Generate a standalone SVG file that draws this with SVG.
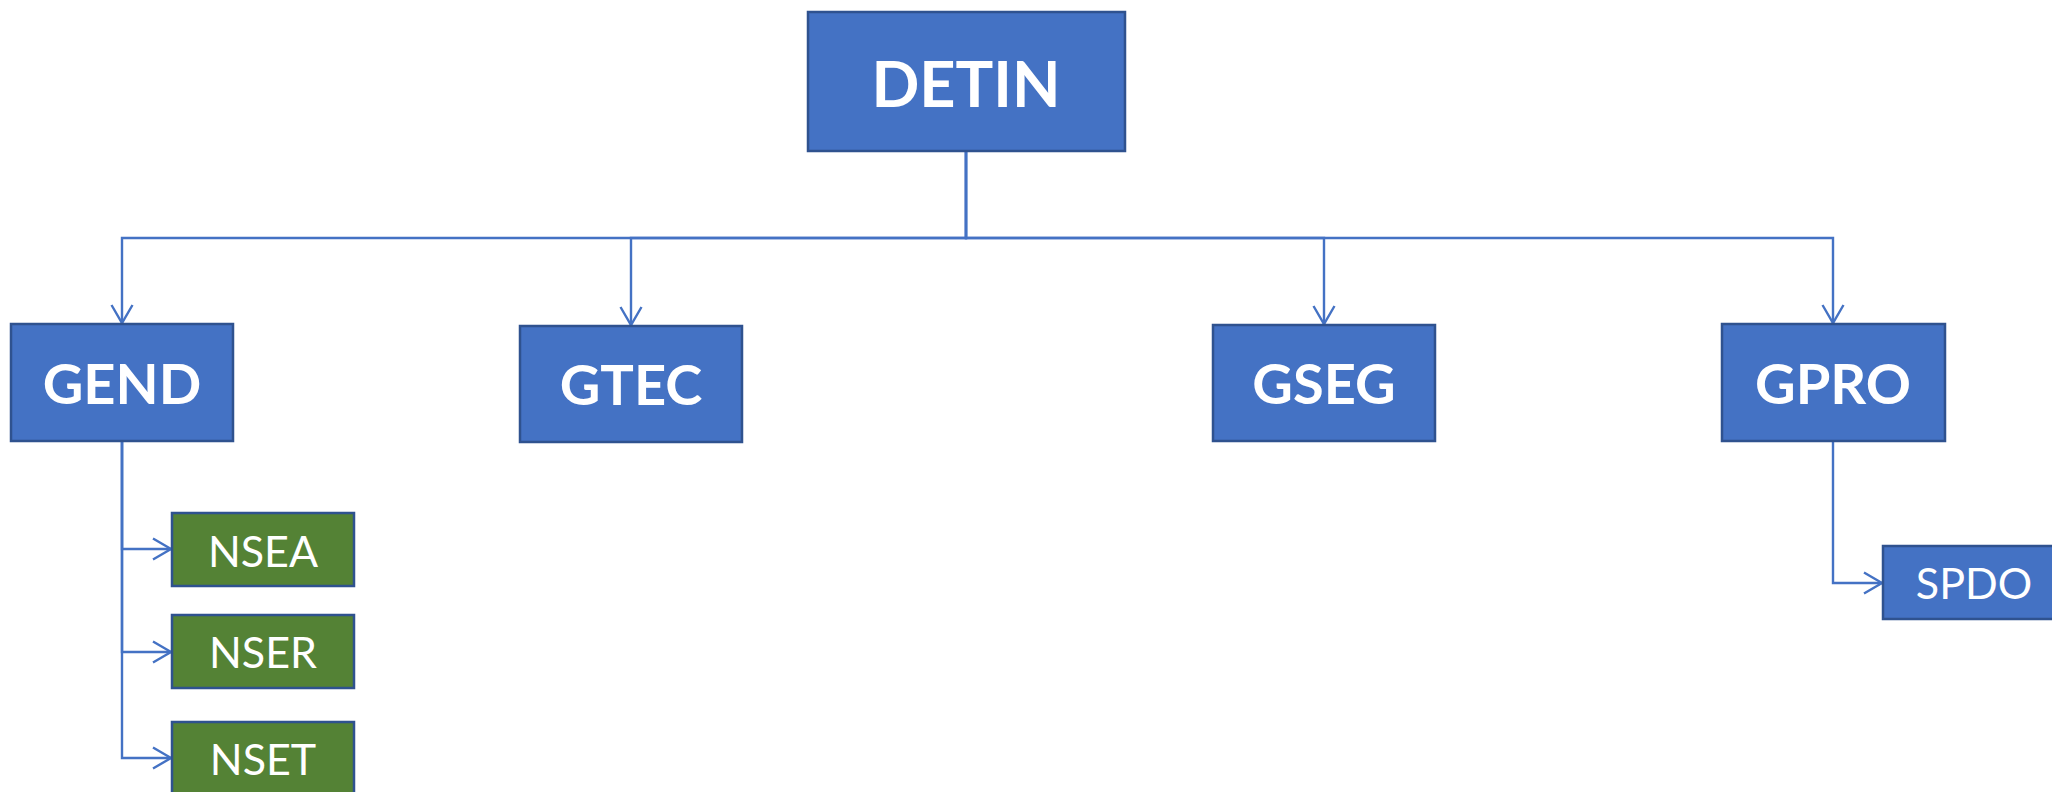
<svg xmlns="http://www.w3.org/2000/svg" width="2052" height="792" viewBox="0 0 2052 792">
<style>
.blue{fill:#4472C4;stroke:#2F528F;stroke-width:2.5}
.green{fill:#548235;stroke:#2F528F;stroke-width:2.5}
.big{font-family:Lato,"Open Sans","Liberation Sans",sans-serif;font-weight:bold;fill:#fff;text-anchor:middle}
.small{font-family:Lato,"Open Sans","Liberation Sans",sans-serif;font-weight:normal;fill:#fff;text-anchor:middle;font-size:43px}
.conn{fill:none;stroke:#4472C4;stroke-width:2.4;marker-end:url(#arr)}
</style>
<defs>
<marker id="arr" markerUnits="userSpaceOnUse" markerWidth="24" markerHeight="28" viewBox="-21 -14 24 28" refX="0" refY="0" orient="auto">
<path d="M-18,-10.5 L0,0 L-18,10.5" fill="none" stroke="#4472C4" stroke-width="2.4"/>
</marker>
</defs>
<rect width="2052" height="792" fill="#fff"/>
<g id="connectors">
<path class="conn" d="M966 151 V238 H122 V323"/>
<path class="conn" d="M966 151 V238 H631 V325"/>
<path class="conn" d="M966 151 V238 H1324 V324"/>
<path class="conn" d="M966 151 V238 H1833 V323"/>
<path class="conn" d="M122 441 V549 H171"/>
<path class="conn" d="M122 441 V652 H171"/>
<path class="conn" d="M122 441 V758 H171"/>
<path class="conn" d="M1833 441 V583 H1882"/>
</g>
<g id="DETIN"><rect class="blue" x="808" y="12" width="317" height="139"/><text class="big" x="966" y="107" font-size="63">DETIN</text></g>
<g id="GEND"><rect class="blue" x="11" y="324" width="222" height="117"/><text class="big" x="122" y="404" font-size="56">GEND</text></g>
<g id="GTEC"><rect class="blue" x="520" y="326" width="222" height="116"/><text class="big" x="631" y="405" font-size="56">GTEC</text></g>
<g id="GSEG"><rect class="blue" x="1213" y="325" width="222" height="116"/><text class="big" x="1324" y="404" font-size="56">GSEG</text></g>
<g id="GPRO"><rect class="blue" x="1722" y="324" width="223" height="117"/><text class="big" x="1833" y="404" font-size="56">GPRO</text></g>
<g id="NSEA"><rect class="green" x="172" y="513" width="182" height="73"/><text class="small" x="263" y="567">NSEA</text></g>
<g id="NSER"><rect class="green" x="172" y="615" width="182" height="73"/><text class="small" x="263" y="668">NSER</text></g>
<g id="NSET"><rect class="green" x="172" y="722" width="182" height="73"/><text class="small" x="263" y="775">NSET</text></g>
<g id="SPDO"><rect class="blue" x="1883" y="546" width="182" height="73"/><text class="small" x="1974" y="599">SPDO</text></g>
</svg>
